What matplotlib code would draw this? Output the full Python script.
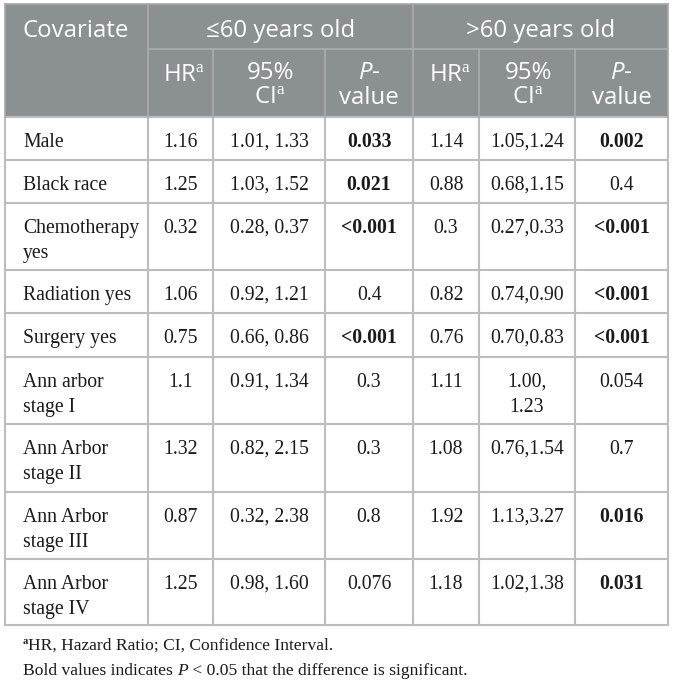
import matplotlib
matplotlib.use('Agg')
import matplotlib.pyplot as plt
from matplotlib.patches import Rectangle

plt.rcParams['mathtext.fontset'] = 'custom'
plt.rcParams['mathtext.rm'] = 'Liberation Serif'
plt.rcParams['mathtext.it'] = 'Open Sans:italic'
plt.rcParams['mathtext.bf'] = 'Liberation Serif:bold'

# ---------------- data ----------------
covariates = ["Male", "Black race", "Chemotherapy\nyes", "Radiation yes", "Surgery yes",
              "Ann arbor\nstage I", "Ann Arbor\nstage II", "Ann Arbor\nstage III", "Ann Arbor\nstage IV"]
hr_le60 = ["1.16", "1.25", "0.32", "1.06", "0.75", "1.1", "1.32", "0.87", "1.25"]
ci_le60 = ["1.01, 1.33", "1.03, 1.52", "0.28, 0.37", "0.92, 1.21", "0.66, 0.86",
           "0.91, 1.34", "0.82, 2.15", "0.32, 2.38", "0.98, 1.60"]
p_le60 = ["0.033", "0.021", "<0.001", "0.4", "<0.001", "0.3", "0.3", "0.8", "0.076"]
hr_gt60 = ["1.14", "0.88", "0.3", "0.82", "0.76", "1.11", "1.08", "1.92", "1.18"]
ci_gt60 = ["1.05,1.24", "0.68,1.15", "0.27,0.33", "0.74,0.90", "0.70,0.83",
           "1.00,\n1.23", "0.76,1.54", "1.13,3.27", "1.02,1.38"]
p_gt60 = ["0.002", "0.4", "<0.001", "<0.001", "<0.001", "0.054", "0.7", "0.016", "0.031"]
group_labels = ["≤60 years old", ">60 years old"]
sub_headers = ["HR$^{\\mathrm{a}}$", "95%\nCI$^{\\mathrm{a}}$", "$\\it{P}$-\nvalue"]
footnote_1 = "HR, Hazard Ratio; CI, Confidence Interval."
footnote_2 = ["Bold values indicates ", "P", " < 0.05 that the difference is significant."]

# ---------------- layout ----------------
W, H = 673, 685
col_x = [5, 148, 213, 325, 413, 479, 575, 668]
row_y = [117, 160, 203, 270, 313, 357, 424, 492, 559, 625]
head_top, head_mid = 4, 49

HEAD_BG = "#8b9093"
HEAD_LINE = "#a7abad"
GRID = "#bdbdbd"
TXT = "#1a1a1a"
SANS = ["Open Sans", "DejaVu Sans"]
SERIF = ["Liberation Serif", "DejaVu Serif"]
BODY_PT = 14.2
FOOT_PT = 12.6
HEAD_PT = 17.3

fig = plt.figure(figsize=(W / 100, H / 100), dpi=100)
ax = fig.add_axes([0, 0, 1, 1])
ax.set_xlim(0, W)
ax.set_ylim(H, 0)
ax.axis('off')

fig.canvas.draw()
renderer = fig.canvas.get_renderer()


def runs(x, y, parts, ha='left'):
    """parts: list of (text, kwargs, dy). Draw horizontally chained text runs."""
    widths = []
    objs = []
    for s, kw, dy in parts:
        t = ax.text(0, 0, s, va='baseline', ha='left', **kw)
        bb = t.get_window_extent(renderer)
        widths.append(bb.width)
        objs.append((t, dy))
    total = sum(widths)
    if ha == 'center':
        x0 = x - total / 2
    elif ha == 'right':
        x0 = x - total
    else:
        x0 = x
    for (t, dy), w in zip(objs, widths):
        t.set_position((x0, y + dy))
        x0 += w


# header background
ax.add_patch(Rectangle((col_x[0], head_top), col_x[-1] - col_x[0], row_y[0] - head_top,
                       facecolor=HEAD_BG, edgecolor='none', zorder=0))
# header lines
ax.plot([col_x[1], col_x[-1]], [head_mid, head_mid], color=HEAD_LINE, lw=1.3)
for xi in [col_x[1], col_x[4]]:
    ax.plot([xi, xi], [head_top, row_y[0]], color=HEAD_LINE, lw=1.3)
for xi in [col_x[2], col_x[3], col_x[5], col_x[6]]:
    ax.plot([xi, xi], [head_mid, row_y[0]], color=HEAD_LINE, lw=1.3)
ax.plot([col_x[0], col_x[-1]], [head_top, head_top], color=HEAD_LINE, lw=1.3)
ax.plot([col_x[-1], col_x[-1]], [head_top, row_y[0]], color=HEAD_LINE, lw=1.3)
ax.plot([col_x[0], col_x[0]], [head_top, row_y[0]], color=HEAD_LINE, lw=1.3)

# header text
hk = dict(fontsize=HEAD_PT, color='white', family=SANS)
ax.text(23, 37, "Covariate", va='baseline', ha='left', **hk)
ax.text((col_x[1] + col_x[4]) / 2, 37, group_labels[0], va='baseline', ha='center', **hk)
ax.text((col_x[4] + col_x[-1]) / 2, 37, group_labels[1], va='baseline', ha='center', **hk)
sub_dx = [4, 1, 0]
for g in range(2):
    c0 = 1 + 3 * g
    for k, lab in enumerate(sub_headers):
        cx = (col_x[c0 + k] + col_x[c0 + k + 1]) / 2 + sub_dx[k]
        y = 104 if "\n" in lab else 82
        ax.text(cx, y, lab, va='baseline', ha='center', multialignment='center',
                linespacing=1.06, **hk)

# body grid
ybot = row_y[-1]
for yi in row_y:
    ax.plot([col_x[0], col_x[-1]], [yi, yi], color=GRID, lw=1.5, zorder=1)
for xi in col_x:
    ax.plot([xi, xi], [row_y[0], ybot], color=GRID, lw=1.5, zorder=1)


def is_sig(p):
    if p.startswith("<"):
        return float(p[1:]) < 0.05
    return float(p) < 0.05


bk = dict(fontsize=BODY_PT, color=TXT, family=SERIF)
LS = 25
columns = [hr_le60, ci_le60, p_le60, hr_gt60, ci_gt60, p_gt60]
for i, cov in enumerate(covariates):
    base = row_y[i] + 30
    for j, line in enumerate(cov.split("\n")):
        ax.text(23, base + j * LS, line, va='baseline', ha='left', **bk)
    for k, colvals in enumerate(columns):
        cx = (col_x[k + 1] + col_x[k + 2]) / 2
        val = colvals[i]
        bold = (k in (2, 5)) and is_sig(val)
        for j, line in enumerate(val.split("\n")):
            ax.text(cx, base + j * LS, line, va='baseline', ha='center',
                    fontweight='bold' if bold else 'normal', **bk)

# footnotes
fk = dict(fontsize=FOOT_PT, color=TXT, family=SERIF)
fk_sup = dict(fontsize=FOOT_PT * 0.6, color=TXT, family=SERIF, fontweight='bold')
fk_it = dict(fontsize=FOOT_PT, color=TXT, family=SERIF, style='italic')
runs(23, 650, [("a", fk_sup, -6), (footnote_1, fk, 0)])
runs(23, 675, [(footnote_2[0], fk, 0), (footnote_2[1], fk_it, 0), (footnote_2[2], fk, 0)])

fig.savefig("out.png", dpi=100, facecolor='white')
